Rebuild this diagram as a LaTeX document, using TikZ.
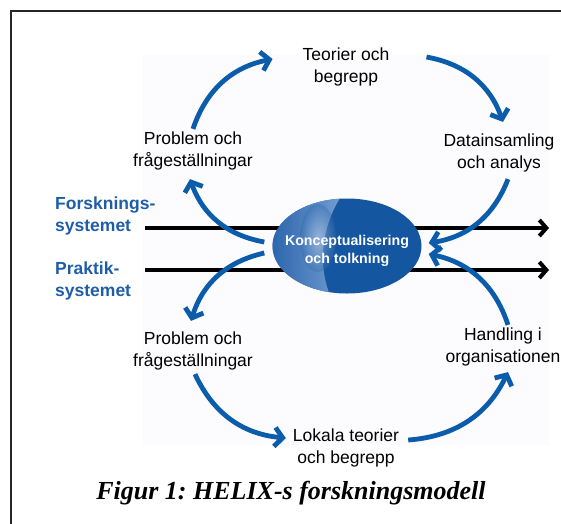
\documentclass[tikz,border=0pt]{standalone}
\usepackage{fontspec}
\setmainfont{Liberation Serif}
\setsansfont{Liberation Sans}
\usetikzlibrary{arrows.meta,shapes.geometric,calc}
\definecolor{arrowblue}{HTML}{0B5CAB}
\definecolor{labelblue}{HTML}{1F5DA9}
\definecolor{elldark}{HTML}{1456A0}
\definecolor{ellmid}{HTML}{2C67AE}
\definecolor{elllight}{HTML}{7FA5D6}
\definecolor{panel}{HTML}{FCFCFE}
\tikzset{
  lbl/.style={font=\sffamily\fontsize{17.5}{21.5}\selectfont, align=center, inner sep=0pt},
  syslbl/.style={font=\sffamily\bfseries\fontsize{17.5}{21.5}\selectfont, text=labelblue, align=left, anchor=west, inner sep=0pt},
  cyc/.style={draw=arrowblue, line width=4.8pt, -{Straight Barb[length=8pt,width=19pt]}},
  sysline/.style={draw=black, line width=4pt, -{Straight Barb[length=7pt,width=16pt]}},
}
\frenchspacing
\begin{document}
\begin{tikzpicture}[x=1pt,y=-1pt]
\useasboundingbox (0,0) rectangle (561,523);
% panel and frame
\fill[panel] (143,55) rectangle (550,445);
\draw[line width=2.4pt, color=black!85] (11,530) -- (11,11) -- (570,11);

% system lines
\coordinate (fs) at (145,228);
\coordinate (fe) at (549,228);
\coordinate (ps) at (145,270);
\coordinate (pe) at (549,270);
\draw[sysline] (fs) -- (fe);
\draw[sysline] (ps) -- (pe);

% ellipse
\node[ellipse, fill=elldark, minimum width=149pt, minimum height=95pt, inner sep=0pt] (ell) at (347,246) {};
\begin{scope}
  \clip (347,246) ellipse (74.5 and 47.5);
  \shade[left color=ellmid, right color=elllight, opacity=0.9]
    (270,195) -- (342,195) .. controls (322,225) and (316,265) .. (332,300) -- (270,300) -- cycle;
  \shade[inner color=white, outer color=ellmid, opacity=0.35] (318,238) ellipse (18 and 34);
\end{scope}
\node[font=\sffamily\bfseries\fontsize{14.2}{18}\selectfont, text=white, align=center, inner sep=0pt] (elltxt) at (347,251) {Konceptualisering\\och tolkning};

% labels
\node[lbl] (teo) at (346,67) {Teorier och\\begrepp};
\node[lbl] (prob1) at (193,151) {Problem och\\frågeställningar};
\node[lbl] (data) at (499,153) {Datainsamling\\och analys};
\node[lbl] (prob2) at (193,351) {Problem och\\frågeställningar};
\node[lbl] (hand) at (503,347) {Handling i\\organisationen};
\node[lbl] (lok) at (346,448) {Lokala teorier\\och begrepp};
\node[syslbl] (fors) at (55,216) {Forsknings-\\systemet};
\node[syslbl] (prak) at (55,281) {Praktik-\\systemet};
\node[font=\rmfamily\bfseries\itshape\fontsize{26}{30}\selectfont, inner sep=0pt] (cap) at (291,493) {Figur 1: HELIX-s forskningsmodell};

% cycle arrow end points
\coordinate (a1s) at ($(prob1.north)+(0,-3)$);
\coordinate (a1e) at ($(teo.west)+(-30,-8)$);
\coordinate (a2s) at ($(teo.east)+(37,-10)$);
\coordinate (a2e) at ($(data.north)+(4,-12)$);
\coordinate (a3s) at ($(data.south)+(9,7)$);
\coordinate (a3e) at ($(ell.east)+(7,-3)$);
\coordinate (a4s) at ($(ell.west)+(-8,-4)$);
\coordinate (a4e) at ($(prob1.south)+(-3,9)$);
\coordinate (a5s) at ($(ell.west)+(-8,7)$);
\coordinate (a5e) at ($(prob2.north)+(-2,-11)$);
\coordinate (a6s) at ($(prob2.south)+(2,4)$);
\coordinate (a6e) at ($(lok.west)+(-7,-10)$);
\coordinate (a7s) at ($(lok.east)+(9,-8)$);
\coordinate (a7e) at ($(hand.south)+(5,6)$);
\coordinate (a8s) at ($(hand.north)+(5,-3)$);
\coordinate (a8e) at ($(ell.east)+(7,8)$);

\draw[cyc] (a1s) to[bend left=30] (a1e);
\draw[cyc] (a2s) to[bend left=30] (a2e);
\draw[cyc] (a3s) to[bend left=30] (a3e);
\draw[cyc] (a4s) to[bend left=30] (a4e);
\draw[cyc] (a5s) to[bend right=30] (a5e);
\draw[cyc] (a6s) to[bend right=30] (a6e);
\draw[cyc] (a7s) to[bend right=30] (a7e);
\draw[cyc] (a8s) to[bend right=30] (a8e);
\end{tikzpicture}
\end{document}
